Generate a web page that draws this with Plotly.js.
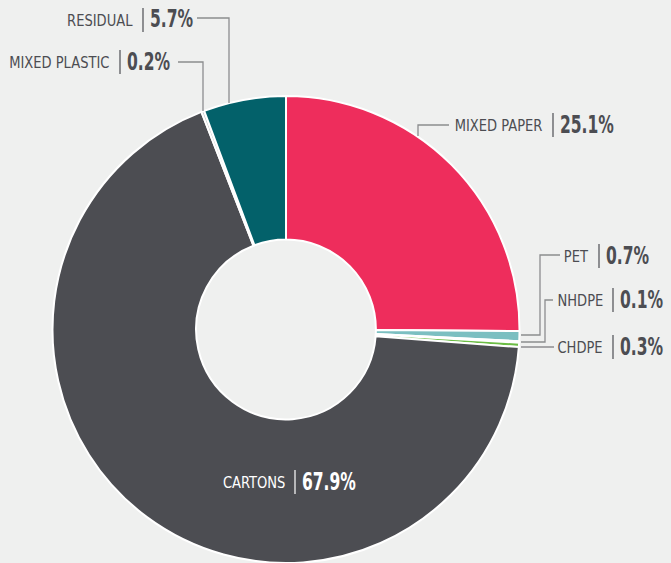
<!DOCTYPE html>
<html><head><meta charset="utf-8">
<script src="https://cdn.plot.ly/plotly-3.0.1.min.js"></script>
<style>html,body{margin:0;padding:0;background:#eff0ef;}#chart{width:671px;height:563px;}</style>
</head><body><div id="chart"></div>
<script>
const categories = ["MIXED PAPER","PET","NHDPE","CHDPE","CARTONS","MIXED PLASTIC","RESIDUAL"];
const values = [25.1, 0.7, 0.1, 0.3, 67.9, 0.2, 5.7];
const valueLabels = ["25.1%","0.7%","0.1%","0.3%","67.9%","0.2%","5.7%"];
const colors = ["#ee2d5c","#7bbfc1","#e8eaea","#6cbd45","#4c4d52","#c8c9cb","#03616a"];

const W = 671, H = 563;
const FONT = '"DejaVu Sans Condensed","Liberation Sans Narrow","Roboto",sans-serif';
const px = x => x / W, py = y => 1 - y / H;

// label layout: separator bar x, text centre y (pixels), text colour
const labelPos = [
  {bar:553, y:125, c:"#4c4d52"},
  {bar:599, y:256, c:"#4c4d52"},
  {bar:613, y:300, c:"#4c4d52"},
  {bar:613, y:347, c:"#4c4d52"},
  {bar:295, y:482, c:"#ffffff"},
  {bar:120, y:62,  c:"#4c4d52"},
  {bar:143, y:20,  c:"#4c4d52"}
];
// leader line polylines (pixels)
const leaders = [
  [[449,125],[418,125],[418,136]],
  [[560,255],[540,255],[540,335],[521,335]],
  [[553,300],[545,300],[545,342],[521,342]],
  [[554,347],[521,347]],
  null,
  [[178,62],[203,62],[203,111]],
  [[197,18],[229,18],[229,103]]
];

const annotations = [], shapes = [];
categories.forEach((cat, i) => {
  const L = labelPos[i];
  annotations.push({xref:'paper', yref:'paper', x:px(L.bar-8), y:py(L.y+1), xanchor:'right', yanchor:'middle',
    text:cat, showarrow:false, font:{family:FONT, size:15, color:L.c}});
  annotations.push({xref:'paper', yref:'paper', x:px(L.bar+5), y:py(L.y-0.5), xanchor:'left', yanchor:'middle',
    text:'<b>'+valueLabels[i]+'</b>', showarrow:false, font:{family:FONT, size:24, color:L.c}});
  shapes.push({type:'line', xref:'paper', yref:'paper', x0:px(L.bar), x1:px(L.bar), y0:py(L.y-12), y1:py(L.y+12),
    line:{color:L.c, width:1.2}});
  const ld = leaders[i];
  if (ld) {
    const path = ld.map((p, k) => (k ? 'L' : 'M') + px(p[0]) + ',' + py(p[1])).join(' ');
    shapes.push({type:'path', xref:'paper', yref:'paper', path:path, line:{color:'#8c8d8f', width:1.3}});
  }
});

const trace = {
  type:'pie', labels:categories, values:values, sort:false, direction:'clockwise', rotation:0,
  hole:0.385, textinfo:'none', hoverinfo:'label+percent',
  marker:{colors:colors, line:{color:'#ffffff', width:2}},
  domain:{x:[52/W, 520/W], y:[0, 467/H]}
};

Plotly.newPlot('chart', [trace], {
  width:W, height:H, margin:{l:0,r:0,t:0,b:0}, showlegend:false,
  paper_bgcolor:'#eff0ef', plot_bgcolor:'#eff0ef',
  annotations:annotations, shapes:shapes
}, {displayModeBar:false, staticPlot:true}).then(() => {
  // condense the text horizontally to mimic the condensed typeface of the reference
  document.querySelectorAll('g.annotation').forEach(g => {
    const idx = +g.getAttribute('data-index');
    const t = g.querySelector('text.annotation-text');
    if (!t) return;
    const isValue = idx % 2 === 1;
    t.style.transformBox = 'fill-box';
    t.style.transformOrigin = isValue ? 'left center' : 'right center';
    t.style.transform = isValue ? 'scaleX(0.72)' : 'scaleX(0.97)';
  });
});
</script></body></html>
